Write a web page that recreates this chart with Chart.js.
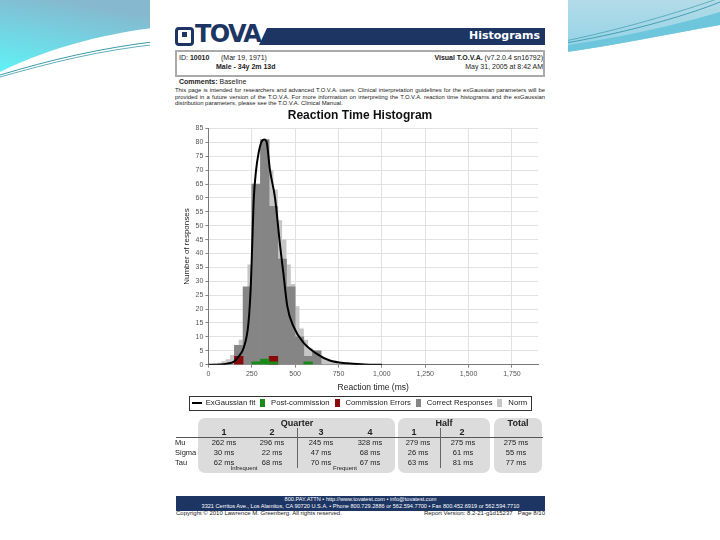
<!DOCTYPE html>
<html>
<head>
<meta charset="utf-8">
<script src="https://cdn.jsdelivr.net/npm/chart.js@4.4.0/dist/chart.umd.min.js"></script>
<style>
html, body { margin: 0; padding: 0; }
body { width: 720px; height: 540px; position: relative; overflow: hidden; background: #fff;
       font-family: "Liberation Sans", Arial, sans-serif; color: #222; }
.a { position: absolute; white-space: nowrap; }
#page { position: absolute; left: 150px; top: 0; width: 418px; height: 540px; background: #fff; }
#logoBox { left: 175px; top: 27px; width: 13px; height: 13px; border: 3px solid #1c3563; border-radius: 4px; }
#logoDot { left: 182px; top: 32px; width: 5px; height: 5px; background: #1c3563; }
#logoText { left: 195px; top: 20px; font: bold 24px "DejaVu Sans", sans-serif; color: #1c3563; letter-spacing: -1.6px; }
#band { left: 259px; top: 28px; width: 286px; height: 17px; background: #1c3563;
        clip-path: polygon(8px 0, 100% 0, 100% 100%, 0 100%); }
#bandText { right: 180px; top: 29px; font: bold 11px "DejaVu Sans", sans-serif; color: #fff; }
#info { left: 175px; top: 50px; width: 366px; height: 23px; border: 2px solid #aaa; }
.small { font-size: 7px; }
#para { left: 175px; top: 87px; width: 370px; font-size: 5.9px; line-height: 6.6px; text-align: justify; white-space: normal; }
#chartBox { position: absolute; left: 182px; top: 106px; width: 364px; height: 313px; }
.box { position: absolute; background: #dcdcdc; border-radius: 7px; }
.hd { font-weight: bold; font-size: 9px; transform: translateX(-50%); }
.val { font-size: 7.5px; transform: translateX(-50%); }
.lab { font-size: 7.5px; }
#foot { left: 176px; top: 496px; width: 369px; height: 15px; background: #1c3563; color: #fff;
        font-size: 5.6px; line-height: 6.6px; text-align: center; }
</style>
</head>
<body>
<svg class="a" style="left:0;top:0" width="720" height="120">
  <defs>
    <linearGradient id="gl" x1="0" y1="1" x2="0.4" y2="0">
      <stop offset="0" stop-color="#5ff2f6"/>
      <stop offset="1" stop-color="#86b8cf"/>
    </linearGradient>
    <linearGradient id="gr" x1="0" y1="0" x2="0" y2="1">
      <stop offset="0" stop-color="#b4dbe8"/>
      <stop offset="1" stop-color="#8fd3e6"/>
    </linearGradient>
  </defs>
  <path d="M0,0 H160 V27 C110,33 55,45 0,72 Z" fill="url(#gl)"/>
  <path d="M0,75 C50,60 100,48 160,41" fill="none" stroke="#3a9aa8" stroke-width="1"/>
  <path d="M0,77 C50,63 100,50 160,44" fill="none" stroke="#3a9aa8" stroke-width="0.8"/>
  <path d="M560,0 H720 V25 C660,36 610,46 560,53 Z" fill="url(#gr)"/>
  <path d="M560,46 C620,38 680,24 720,12 V25 C660,36 610,46 560,53 Z" fill="#6ec6dd"/>
  <path d="M560,44 C620,34 680,18 720,2" fill="none" stroke="#2f8fa6" stroke-width="0.8"/>
  <path d="M560,42 C620,30 680,12 720,-2" fill="none" stroke="#2f8fa6" stroke-width="0.6"/>
</svg>
<div id="page"></div>

<div class="a" id="logoBox"></div>
<div class="a" id="logoDot"></div>
<div class="a" id="logoText">TOVA</div>
<div class="a" id="band"></div>
<div class="a" id="bandText">Histograms</div>

<div class="a" id="info"></div>
<div class="a small" style="left:179px;top:54px">ID: <b>10010</b> &nbsp;&nbsp;&nbsp;&nbsp; (Mar 19, 1971)</div>
<div class="a small" style="left:216px;top:63px;font-weight:bold">Male - 34y 2m 13d</div>
<div class="a small" style="right:177px;top:54px"><b>Visual T.O.V.A.</b> (v7.2.0.4 sn16792)</div>
<div class="a small" style="right:177px;top:63px">May 31, 2005 at 8:42 AM</div>

<div class="a small" style="left:179px;top:78px"><b>Comments:</b> Baseline</div>
<div class="a" id="para">This page is intended for researchers and advanced T.O.V.A. users. Clinical interpretation guidelines for the exGaussian parameters will be provided in a future version of the T.O.V.A. For more information on interpreting the T.O.V.A. reaction time histograms and the exGaussian distribution parameters, please see the T.O.V.A. Clinical Manual.</div>

<div id="chartBox"><canvas id="chart"></canvas></div>

<div id="table"></div>

<div class="a" id="foot">800.PAY.ATTN &bull; http://www.tovatest.com &bull; info@tovatest.com<br>3321 Cerritos Ave., Los Alamitos, CA 90720 U.S.A. &bull; Phone 800.729.2886 or 562.594.7700 &bull; Fax 800.452.6919 or 562.594.7710</div>
<div class="a" style="left:176px;top:510px;font-size:6px">Copyright &copy; 2010 Lawrence M. Greenberg. All rights reserved.</div>
<div class="a" style="right:175px;top:510px;font-size:6px">Report Version: 8.2-21-g1d15237 &nbsp; Page 8/10</div>

<script>
// histogram bins are 50 ms wide, values are bin centres
const binCenters = [175, 225, 275, 325, 375, 425, 475, 525, 575, 625];
const correctCounts = [7, 28, 65, 81, 57, 38, 28, 10, 3, 5];

const commissionX = [175, 375];
const commissionCounts = [3, 3];

const postCommissionX = [275, 325, 375, 575];
const postCommissionCounts = [1, 2, 1, 1];

// norm is drawn as a 25 ms step histogram (left edges)
const normEdges = [0, 25, 50, 75, 100, 125, 150, 175, 200, 225, 250, 275, 300, 325, 350, 375, 400,
    425, 450, 475, 500, 525, 550, 575, 600, 625, 650, 675, 700, 725, 750, 775, 800, 825];
const normValues = [0.2, 0.4, 0.7, 1.2, 2, 3.5, 6, 9, 20, 36, 52, 64, 72, 74, 70, 63, 52,
    45, 36, 29, 21, 13, 9, 6, 4.5, 3.5, 2.5, 1.8, 1.2, 0.8, 0.5, 0.3, 0.2, 0];

// ExGaussian fit
const fitX = [0, 50, 100, 150, 175, 203, 231, 245, 252, 262, 275, 289, 305, 323, 336, 355, 384,
    413, 432, 455, 489, 547, 623, 700, 800, 900, 950, 1000];
const fitY = [0, 0, 0.3, 1.2, 3, 6, 15, 29, 42, 60, 70, 76, 80, 81, 80, 70, 60,
    43, 33, 21, 14, 8, 4, 1.5, 0.5, 0.1, 0, 0];

const xTicks = [0, 250, 500, 750, 1000, 1250, 1500, 1750];

// table
const colX = [224, 272, 321, 370, 418, 463, 516];
const rowLabels = ['Mu', 'Sigma', 'Tau'];
const rowValues = [
    ['262 ms', '296 ms', '245 ms', '328 ms', '279 ms', '275 ms', '275 ms'],
    ['30 ms', '22 ms', '47 ms', '68 ms', '26 ms', '61 ms', '55 ms'],
    ['62 ms', '68 ms', '70 ms', '67 ms', '63 ms', '81 ms', '77 ms']
];

function makeTable() {
    const t = document.getElementById('table');
    let html = '';
    html += '<div class="box" style="left:198px;top:418px;width:197px;height:55px"></div>';
    html += '<div class="box" style="left:398px;top:418px;width:92px;height:55px"></div>';
    html += '<div class="box" style="left:494px;top:418px;width:48px;height:55px"></div>';
    html += '<div class="a" style="left:176px;top:437px;width:367px;height:1px;background:#555"></div>';
    html += '<div class="a" style="left:297px;top:428px;width:1px;height:40px;background:#666"></div>';
    html += '<div class="a" style="left:440px;top:428px;width:1px;height:40px;background:#666"></div>';
    html += '<div class="a hd" style="left:297px;top:418px">Quarter</div>';
    html += '<div class="a hd" style="left:444px;top:418px">Half</div>';
    html += '<div class="a hd" style="left:518px;top:418px">Total</div>';
    ['1', '2', '3', '4'].forEach((s, i) => {
        html += `<div class="a hd" style="left:${colX[i]}px;top:427px">${s}</div>`;
    });
    html += `<div class="a hd" style="left:414px;top:427px">1</div>`;
    html += `<div class="a hd" style="left:462px;top:427px">2</div>`;
    rowLabels.forEach((lab, r) => {
        const y = 438 + r * 10;
        html += `<div class="a lab" style="left:175px;top:${y}px">${lab}</div>`;
        rowValues[r].forEach((v, c) => {
            html += `<div class="a val" style="left:${colX[c]}px;top:${y}px">${v}</div>`;
        });
    });
    html += '<div class="a val" style="left:244px;top:465px;font-size:6px">Infrequent</div>';
    html += '<div class="a val" style="left:345px;top:465px;font-size:6px">Frequent</div>';
    t.innerHTML = html;
}
makeTable();

function markerCanvas(color, isLine) {
    const c = document.createElement('canvas');
    c.width = isLine ? 10 : 5;
    c.height = isLine ? 2 : 8;
    const ctx = c.getContext('2d');
    ctx.fillStyle = color;
    ctx.fillRect(0, 0, c.width, c.height);
    return c;
}

const legendBorder = {
    id: 'legendBorder',
    afterDraw(chart) {
        const boxes = chart.legend.legendHitBoxes;
        if (!boxes.length) return;
        const left = Math.min(...boxes.map(b => b.left)) - 4;
        const right = Math.max(...boxes.map(b => b.left + b.width)) + 4;
        const top = Math.min(...boxes.map(b => b.top)) - 3;
        const bottom = Math.max(...boxes.map(b => b.top + b.height)) + 3;
        const ctx = chart.ctx;
        ctx.save();
        ctx.strokeStyle = '#333';
        ctx.lineWidth = 1;
        ctx.strokeRect(Math.round(left) + 0.5, Math.round(top) + 0.5, Math.round(right - left), Math.round(bottom - top));
        ctx.restore();
    }
};

const toXY = (xs, ys) => xs.map((x, i) => ({ x: x, y: ys[i] }));

new Chart(document.getElementById('chart'), {
    type: 'bar',
    data: {
        datasets: [
            {
                type: 'line',
                label: 'ExGaussian fit',
                data: toXY(fitX, fitY),
                borderColor: '#000',
                borderWidth: 2,
                pointRadius: 0,
                cubicInterpolationMode: 'monotone',
                pointStyle: markerCanvas('#000', true)
            },
            {
                label: 'Post-commission',
                data: toXY(postCommissionX, postCommissionCounts),
                backgroundColor: '#1a8a1a',
                pointStyle: markerCanvas('#1a8a1a', false)
            },
            {
                label: 'Commission Errors',
                data: toXY(commissionX, commissionCounts),
                backgroundColor: '#8a0a0a',
                pointStyle: markerCanvas('#8a0a0a', false)
            },
            {
                label: 'Correct Responses',
                data: toXY(binCenters, correctCounts),
                backgroundColor: '#858585',
                pointStyle: markerCanvas('#858585', false)
            },
            {
                type: 'line',
                label: 'Norm',
                data: toXY(normEdges, normValues),
                stepped: true,
                borderWidth: 0,
                borderColor: 'rgba(0,0,0,0)',
                backgroundColor: '#c6c6c6',
                fill: 'origin',
                pointRadius: 0,
                pointStyle: markerCanvas('#c6c6c6', false)
            }
        ]
    },
    options: {
        responsive: true,
        maintainAspectRatio: false,
        animation: false,
        grouped: false,
        barPercentage: 1,
        categoryPercentage: 1,
        layout: { padding: { left: 0, right: 8, top: 0, bottom: 2 } },
        plugins: {
            title: {
                display: true,
                text: 'Reaction Time Histogram',
                color: '#111',
                font: { family: 'Liberation Sans', size: 12, weight: 'bold' },
                padding: { top: 2, bottom: 6 }
            },
            legend: {
                position: 'bottom',
                labels: {
                    usePointStyle: true,
                    pointStyleWidth: 9,
                    boxHeight: 8,
                    padding: 3,
                    color: '#222',
                    font: { family: 'Liberation Sans', size: 7.7 }
                }
            },
            tooltip: { enabled: false }
        },
        scales: {
            x: {
                type: 'linear',
                min: 0,
                max: 1900,
                offset: false,
                afterBuildTicks: scale => { scale.ticks = xTicks.map(v => ({ value: v })); },
                grid: { offset: false, color: '#e2e2e2', tickLength: 3, tickColor: '#888' },
                border: { color: '#777' },
                ticks: { color: '#555', font: { family: 'Liberation Sans', size: 7 }, padding: 2, maxRotation: 0 },
                title: {
                    display: true,
                    text: 'Reaction time (ms)',
                    color: '#222',
                    font: { family: 'Liberation Sans', size: 8.5 },
                    padding: { top: 2, bottom: 4 }
                }
            },
            y: {
                min: 0,
                max: 85,
                grid: { color: '#e2e2e2', tickLength: 3, tickColor: '#888' },
                border: { color: '#777' },
                ticks: { stepSize: 5, color: '#555', font: { family: 'Liberation Sans', size: 7 }, padding: 2 },
                title: {
                    display: true,
                    text: 'Number of responses',
                    color: '#222',
                    font: { family: 'Liberation Sans', size: 8 },
                    padding: { top: 0, bottom: 2 }
                }
            }
        }
    },
    plugins: [legendBorder]
});
</script>
</body>
</html>
